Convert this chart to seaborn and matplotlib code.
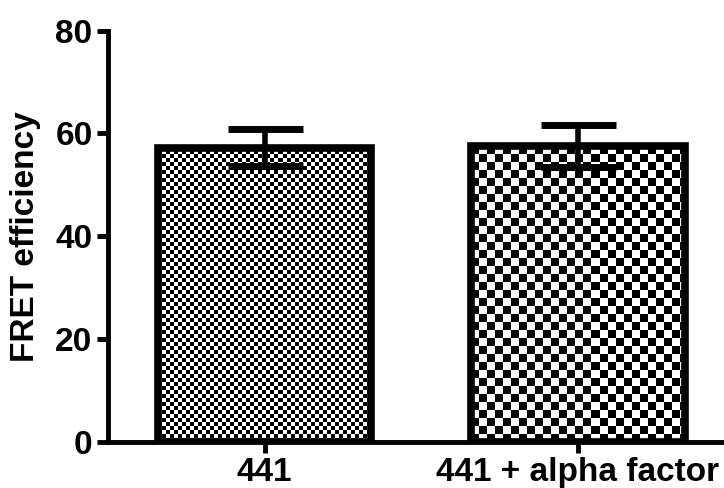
import numpy as np
import pandas as pd
import matplotlib
matplotlib.use("Agg")
import matplotlib.pyplot as plt
import seaborn as sns

# FRET efficiency per condition (mean and error)
conditions = ["441", "441 + alpha factor"]
means = [57.2, 57.6]
errors = [3.6, 4.1]
checker_px = [4, 8]          # checker cell size (pixels) for each bar fill
y_ticks = [0, 20, 40, 60, 80]

sns.set_theme(style="ticks")
plt.rcParams["font.family"] = ["Liberation Sans", "DejaVu Sans"]
plt.rcParams["font.weight"] = "bold"

fig = plt.figure(figsize=(7.24, 4.88), dpi=100)
ax = fig.add_axes([0.149, 0.095, 0.851, 0.842])

df = pd.DataFrame({"condition": conditions, "efficiency": means})
sns.barplot(data=df, x="condition", y="efficiency", ax=ax, errorbar=None,
            width=0.68, facecolor="none", edgecolor="black", linewidth=5.5,
            zorder=2)

ax.set_xlim(-0.5, 1.466)
ax.set_ylim(0, 80)

# checkerboard fill clipped to each bar
fig.canvas.draw()
for patch, cell in zip(ax.patches, checker_px):
    bb = patch.get_window_extent()
    ncol = int(np.ceil(bb.width / cell))
    nrow = int(np.ceil(bb.height / cell))
    board = (np.add.outer(np.arange(nrow), np.arange(ncol)) % 2).astype(float)
    x0, y0 = patch.get_x(), patch.get_y()
    w, h = patch.get_width(), patch.get_height()
    # extent sized so each cell is square in pixels
    x1 = x0 + w * (ncol * cell) / bb.width
    y1 = y0 + h * (nrow * cell) / bb.height
    im = ax.imshow(board, cmap="gray", vmin=0, vmax=1, origin="lower",
                   extent=(x0, x1, y0, y1), interpolation="nearest",
                   aspect="auto", zorder=1)
    im.set_clip_path(patch)

ax.set_xlim(-0.5, 1.466)
ax.set_ylim(0, 80)

ax.errorbar(np.arange(len(conditions)), means, yerr=errors, fmt="none",
            ecolor="black", elinewidth=4, capsize=27, capthick=5, zorder=3,
            solid_capstyle="round")

sns.despine(ax=ax)
for side in ("left", "bottom"):
    ax.spines[side].set_linewidth(3.5)
    ax.spines[side].set_color("black")

ax.set_yticks(y_ticks)
ax.tick_params(axis="both", direction="out", length=8, width=3.5,
               color="black", labelcolor="black", pad=3)
ax.tick_params(axis="y", labelsize=24)
ax.tick_params(axis="x", labelsize=24)
for lbl in ax.get_xticklabels() + ax.get_yticklabels():
    lbl.set_fontweight("bold")

ax.set_xlabel("")
ax.set_ylabel("FRET efficiency", fontsize=24, fontweight="bold",
              color="black", labelpad=10)

fig.savefig("out.png", dpi=100)
